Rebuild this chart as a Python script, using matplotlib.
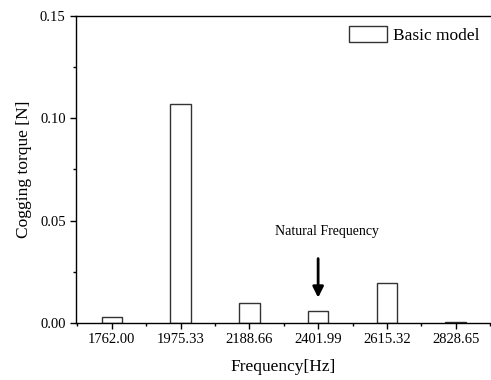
import matplotlib
matplotlib.use("Agg")
import matplotlib.pyplot as plt
from matplotlib.ticker import MultipleLocator

plt.rcParams['font.family'] = ['Liberation Serif', 'DejaVu Serif']

freqs = ["1762.00", "1975.33", "2188.66", "2401.99", "2615.32", "2828.65"]
torque = [0.0031, 0.107, 0.0099, 0.006, 0.0194, 0.0003]
natural_idx = 3

fig = plt.figure(figsize=(4.91, 3.8), dpi=100)
ax = fig.add_axes([0.155, 0.15, 0.843, 0.8087])

x = list(range(len(freqs)))
ax.bar(x, torque, width=0.3, facecolor="white", edgecolor="#333333",
       linewidth=1.0, label="Basic model")

ax.set_xlim(-0.52, 5.5)
ax.set_ylim(0, 0.15)
ax.set_xticks(x)
ax.set_xticklabels(freqs)
ax.set_xticks([i + 0.5 for i in range(-1, len(freqs))], minor=True)
ax.yaxis.set_major_locator(MultipleLocator(0.05))
ax.yaxis.set_minor_locator(MultipleLocator(0.025))
ax.yaxis.set_major_formatter(matplotlib.ticker.FormatStrFormatter("%.2f"))

ax.tick_params(which="major", direction="out", length=4, width=1, labelsize=10.5)
ax.tick_params(which="minor", direction="out", length=2.5, width=1)
ax.spines["right"].set_visible(False)
for s in ["left", "bottom", "top"]:
    ax.spines[s].set_linewidth(1.0)

ax.set_xlabel("Frequency[Hz]", fontsize=12.5, labelpad=9)
ax.set_ylabel("Cogging torque [N]", fontsize=12.5, labelpad=6)

ax.annotate("", xy=(natural_idx, 0.011), xytext=(natural_idx, 0.0328),
            arrowprops=dict(arrowstyle="-|>", color="black", lw=2.0,
                            mutation_scale=16))
ax.text(natural_idx + 0.13, 0.0445, "Natural Frequency", fontsize=10,
        ha="center", va="center")

ax.legend(loc="upper right", frameon=False, fontsize=12.5,
          handlelength=2.2, handleheight=1.0, handletextpad=0.35,
          borderaxespad=0.2, bbox_to_anchor=(1.0, 1.0))

fig.savefig("out.png", dpi=100)
